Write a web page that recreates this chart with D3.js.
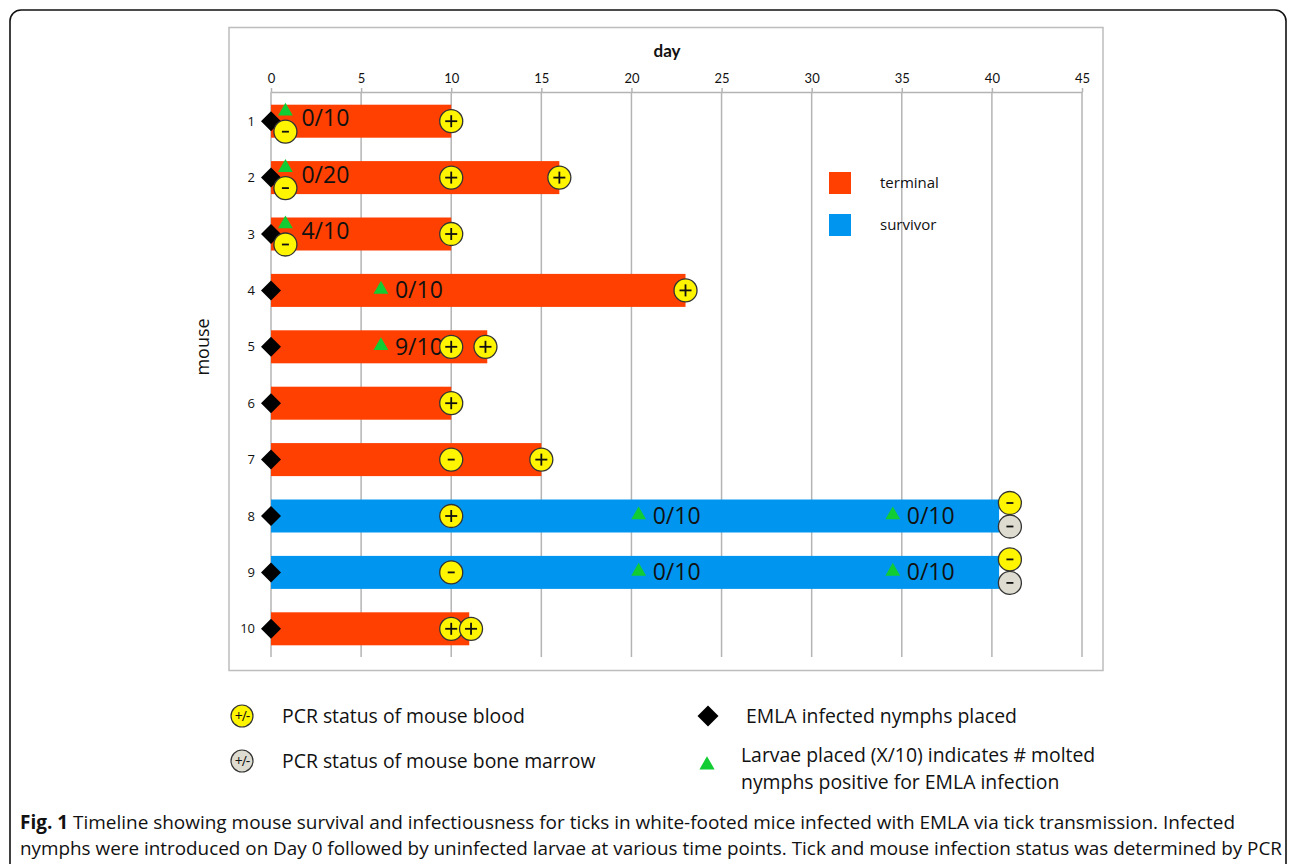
<!DOCTYPE html>
<html><head><meta charset="utf-8">
<script src="https://cdn.jsdelivr.net/npm/d3@7"></script>
<style>
html,body{margin:0;padding:0;background:#fff;}
svg{display:block;}
</style></head>
<body>
<svg id="c" width="1296" height="864"></svg>
<script>
// ---- data ----
const mice = [1,2,3,4,5,6,7,8,9,10];
const survivalDays = [10,16,10,23,12,10,15,40.4,40.4,11];
const outcome = ["terminal","terminal","terminal","terminal","terminal","terminal","terminal","survivor","survivor","terminal"];
const dayTicks = [0,5,10,15,20,25,30,35,40,45];
// blood PCR: [mouse, day, result, stack]  (stack: -1 upper, 0 centre, 1 lower)
const bloodPCR = [
  [1,0.8,"-",1],[1,10,"+",0],
  [2,0.8,"-",1],[2,10,"+",0],[2,16,"+",0],
  [3,0.8,"-",1],[3,10,"+",0],
  [4,23,"+",0],
  [5,10,"+",0],[5,11.9,"+",0],
  [6,10,"+",0],
  [7,10,"-",0],[7,15,"+",0],
  [8,10,"+",0],[8,41,"-",-1],
  [9,10,"-",0],[9,41,"-",-1],
  [10,10,"+",0],[10,11.1,"+",0]
];
// bone marrow PCR
const marrowPCR = [[8,41,"-",1],[9,41,"-",1]];
// larvae placed: [mouse, day, result, stack]
const larvae = [
  [1,0.8,"0/10",-1],[2,0.8,"0/20",-1],[3,0.8,"4/10",-1],
  [4,6.1,"0/10",0],[5,6.1,"9/10",0],
  [8,20.4,"0/10",0],[8,34.5,"0/10",0],
  [9,20.4,"0/10",0],[9,34.5,"0/10",0]
];
const nymphDay = 0;
const colors = {terminal:"#ff4000", survivor:"#0096f0"};

// ---- drawing ----
const svg = d3.select("#c");
const sans = "'Open Sans', 'Noto Sans', sans-serif";
const cal = "Lato, 'Open Sans', sans-serif";

// outer frame
svg.append("rect").attr("x",10).attr("y",10).attr("width",1276).attr("height",870)
  .attr("rx",11).attr("fill","none").attr("stroke","#111").attr("stroke-width",1.6);
// inner panel
svg.append("rect").attr("x",229).attr("y",27.5).attr("width",874).attr("height",643)
  .attr("fill","#fff").attr("stroke","#bdbdbd").attr("stroke-width",1.5);

const x = d3.scaleLinear().domain([0,45]).range([271,1082]);
const y = d3.scalePoint().domain(mice).range([93,657]).padding(0.5);
const barH = 33;

// gridlines
svg.append("g").selectAll("line").data(dayTicks).join("line")
  .attr("x1",d=>x(d)).attr("x2",d=>x(d)).attr("y1",92).attr("y2",657)
  .attr("stroke","#b4b4b4").attr("stroke-width",1.5);

// top axis
const ax = svg.append("g").attr("transform","translate(0,92)")
  .call(d3.axisTop(x).tickValues(dayTicks).tickSize(4).tickPadding(5).tickSizeOuter(0));
ax.select(".domain").attr("stroke","#b4b4b4").attr("stroke-width",1.5);
ax.selectAll(".tick line").attr("stroke","#b4b4b4").attr("stroke-width",1.5);
ax.selectAll("text").attr("font-family",cal).attr("font-size",13).attr("fill","#111");
svg.append("text").attr("x",667).attr("y",57).attr("text-anchor","middle")
  .attr("font-family",cal).attr("font-weight","bold").attr("font-size",17).attr("fill","#111").text("day");

// y labels
svg.append("g").selectAll("text").data(mice).join("text")
  .attr("x",255).attr("y",d=>y(d)).attr("dy","0.35em").attr("text-anchor","end")
  .attr("font-family",sans).attr("font-size",13).attr("fill","#111").text(d=>d);
svg.append("text").attr("transform","translate(209,347) rotate(-90)").attr("text-anchor","middle")
  .attr("font-family",sans).attr("font-size",18).attr("fill","#111").text("mouse");

// bars
svg.append("g").selectAll("rect").data(mice).join("rect")
  .attr("x",x(0)).attr("y",d=>y(d)-barH/2)
  .attr("width",(d,i)=>x(survivalDays[i])-x(0)).attr("height",barH)
  .attr("fill",(d,i)=>colors[outcome[i]]);

// diamonds
const diamond = d3.symbol().type(d3.symbolSquare).size(200);
svg.append("g").selectAll("path").data(mice).join("path")
  .attr("d",diamond)
  .attr("transform",d=>`translate(${x(nymphDay)},${y(d)}) rotate(45)`)
  .attr("fill","#000");

// larvae triangles + labels
const tri = d3.symbol().type(d3.symbolTriangle).size(95);
const lg = svg.append("g");
lg.selectAll("path").data(larvae).join("path")
  .attr("d",tri)
  .attr("transform",d=>`translate(${x(d[1])},${y(d[0])+(d[3]<0?-10:-1)})`)
  .attr("fill","#11cc33");
lg.selectAll("text").data(larvae).join("text")
  .attr("x",d=>x(d[1])+(d[3]<0?16:14)).attr("y",d=>y(d[0])+(d[3]<0?-3:0))
  .attr("dy","0.35em").attr("font-family",sans).attr("font-size",23).attr("fill","#111")
  .text(d=>d[2]);

// PCR circles
function pcr(data, fill){
  const g = svg.append("g").selectAll("g").data(data).join("g")
    .attr("transform",d=>`translate(${x(d[1])},${y(d[0])+(d[3]<0?-13:d[3]>0?10.5:0)})`);
  g.append("circle").attr("r",11.5).attr("fill",fill).attr("stroke","#333").attr("stroke-width",1.3);
  g.each(function(d){
    const s = d3.select(this);
    if(d[2]==="+"){
      s.append("line").attr("x1",-6).attr("x2",6).attr("stroke","#111").attr("stroke-width",1.8);
      s.append("line").attr("y1",-6).attr("y2",6).attr("stroke","#111").attr("stroke-width",1.8);
    } else {
      s.append("line").attr("x1",-3.5).attr("x2",3.5).attr("stroke","#111").attr("stroke-width",1.8);
    }
  });
}
pcr(bloodPCR,"#fff500");
pcr(marrowPCR,"#dedcd0");

// in-plot legend
const leg = [["terminal",183],["survivor",225]];
leg.forEach(([k,cy])=>{
  svg.append("rect").attr("x",829).attr("y",cy-11).attr("width",22).attr("height",22).attr("fill",colors[k]);
  svg.append("text").attr("x",880).attr("y",cy).attr("dy","0.35em")
    .attr("font-family",sans).attr("font-size",15).attr("fill","#111").text(k);
});

// bottom legend
function legCircle(cx,cy,fill){
  svg.append("circle").attr("cx",cx).attr("cy",cy).attr("r",11).attr("fill",fill).attr("stroke","#333").attr("stroke-width",1.2);
  svg.append("text").attr("x",cx).attr("y",cy).attr("dy","0.35em").attr("text-anchor","middle")
    .attr("font-family",sans).attr("font-size",14).attr("fill","#111").attr("letter-spacing",-1).text("+/-");
}
legCircle(242,716,"#fff500");
legCircle(242,761,"#dedcd0");
const lt = (tx,ty,s)=>svg.append("text").attr("x",tx).attr("y",ty).attr("dy","0.35em")
  .attr("font-family",sans).attr("font-size",19.4).attr("fill","#111").text(s);
lt(282,716,"PCR status of mouse blood");
lt(282,761,"PCR status of mouse bone marrow");
svg.append("path").attr("d",d3.symbol().type(d3.symbolSquare).size(220))
  .attr("transform","translate(708,716) rotate(45)").attr("fill","#000");
lt(746,716,"EMLA infected nymphs placed");
svg.append("path").attr("d",d3.symbol().type(d3.symbolTriangle).size(100))
  .attr("transform","translate(707,765)").attr("fill","#11cc33");
lt(741,755,"Larvae placed (X/10) indicates # molted");
lt(741,782,"nymphs positive for EMLA infection");

// caption
const cap = svg.append("g").attr("font-family","'Liberation Sans Narrow', 'Open Sans', sans-serif").attr("font-size",19).attr("fill","#111");
const l1 = cap.append("text").attr("x",20).attr("y",829).attr("textLength",1215).attr("lengthAdjust","spacingAndGlyphs");
l1.append("tspan").attr("font-weight","bold").text("Fig. 1");
l1.append("tspan").text(" Timeline showing mouse survival and infectiousness for ticks in white-footed mice infected with EMLA via tick transmission. Infected");
cap.append("text").attr("x",20).attr("y",855).attr("textLength",1262).attr("lengthAdjust","spacingAndGlyphs")
  .text("nymphs were introduced on Day 0 followed by uninfected larvae at various time points. Tick and mouse infection status was determined by PCR");
</script>
</body></html>
